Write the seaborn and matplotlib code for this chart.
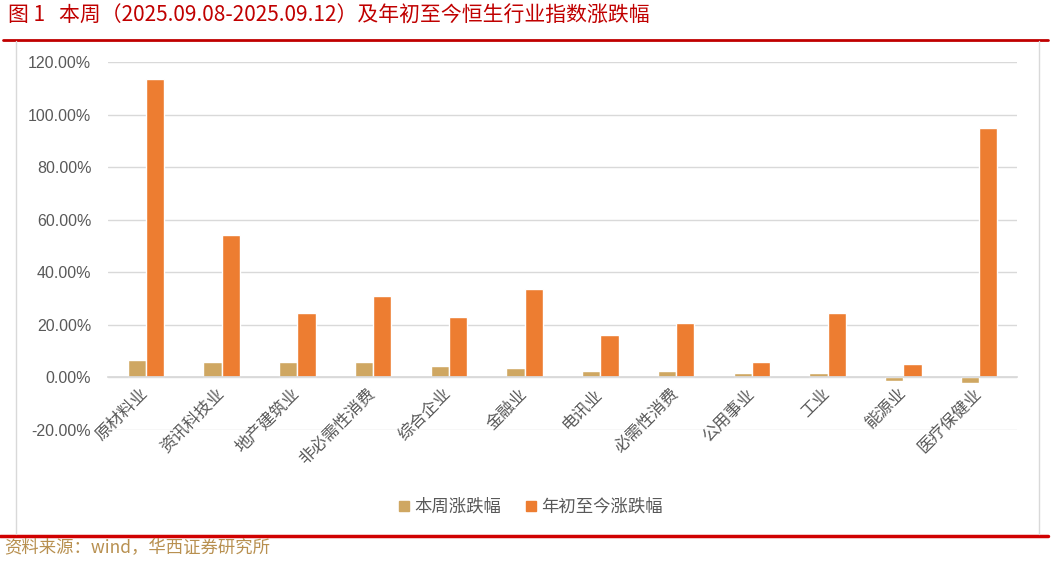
import pandas as pd
import matplotlib.pyplot as plt
import seaborn as sns
from matplotlib.lines import Line2D
from matplotlib.ticker import FuncFormatter

# Data (percent)
industries = ["原材料业", "资讯科技业", "地产建筑业", "非必需性消费", "综合企业", "金融业",
              "电讯业", "必需性消费", "公用事业", "工业", "能源业", "医疗保健业"]
week_change = [6.6, 5.9, 5.9, 5.8, 4.3, 3.6, 2.4, 2.4, 1.8, 1.8, -1.3, -2.2]
ytd_change = [113.5, 54.1, 24.4, 30.9, 22.9, 33.5, 16.0, 20.6, 5.7, 24.4, 5.0, 94.9]
series_names = ["本周涨跌幅", "年初至今涨跌幅"]
yticks = [-20, 0, 20, 40, 60, 80, 100, 120]

df = pd.DataFrame({
    "行业": industries * 2,
    "涨跌幅": week_change + ytd_change,
    "指标": [series_names[0]] * len(industries) + [series_names[1]] * len(industries),
})

sns.set_theme(style="white")
plt.rcParams["font.family"] = ["Noto Sans CJK SC", "DejaVu Sans"]

tan = "#CFA762"
orange = "#ED7D31"
grey = "#D9D9D9"
text_grey = "#595959"
red = "#C00000"

fig = plt.figure(figsize=(10.53, 5.62), dpi=100)
fig.patch.set_facecolor("white")

# Title and framing lines
fig.text(0.008, 0.972, "图 1   本周（2025.09.08-2025.09.12）及年初至今恒生行业指数涨跌幅",
         color=red, fontsize=15, ha="left", va="center")
fig.add_artist(Line2D([0.003, 0.995], [1 - 40 / 562] * 2, color=red, lw=2))
fig.add_artist(Line2D([0.0, 0.995], [1 - 536 / 562] * 2, color="#D00000", lw=2.5))
# light grey chart box
fig.add_artist(Line2D([16 / 1053, 16 / 1053], [1 - 534 / 562, 1 - 41 / 562], color=grey, lw=1))
fig.add_artist(Line2D([1039 / 1053, 1039 / 1053], [1 - 534 / 562, 1 - 41 / 562], color=grey, lw=1))
fig.text(0.004, 1 - 548 / 562, "资料来源：wind，华西证券研究所", color="#B89050",
         fontsize=12.5, ha="left", va="center")

ax = fig.add_axes([108 / 1053, 1 - 430 / 562, (1017 - 108) / 1053, (430 - 62) / 562])
sns.barplot(data=df, x="行业", y="涨跌幅", hue="指标", palette=[tan, orange],
            width=0.48, ax=ax, legend=False, saturation=1)

ax.set_ylim(-20, 120)
ax.set_yticks(yticks)
ax.yaxis.set_major_formatter(FuncFormatter(lambda v, p: f"{v:.2f}%"))
ax.yaxis.grid(True, color=grey, lw=1)
ax.set_axisbelow(True)
ax.set_xlabel("")
ax.set_ylabel("")
for s in ["left", "right", "top"]:
    ax.spines[s].set_visible(False)
ax.spines["bottom"].set_position(("data", 0))
ax.spines["bottom"].set_color(grey)
ax.tick_params(axis="both", length=0)
ax.tick_params(axis="y", labelsize=11.5, labelcolor=text_grey, pad=12)
for lab in ax.get_yticklabels():
    lab.set_family(["Liberation Sans", "DejaVu Sans"])
ax.set_xticks(range(len(industries)))
ax.set_xticklabels(industries, rotation=45, ha="right", va="center",
                   rotation_mode="anchor", fontsize=12, color=text_grey)
ax.tick_params(axis="x", pad=10)

handles = [Line2D([], [], marker="s", ls="", color=c, markersize=7) for c in [tan, orange]]
fig.legend(handles, series_names, loc="center", bbox_to_anchor=(530 / 1053, 1 - 507 / 562),
           ncol=2, frameon=False, fontsize=12.5, labelcolor=text_grey,
           handlelength=0.8, handletextpad=0.2, columnspacing=1.3)

fig.savefig("out.png", dpi=100, facecolor="white")
